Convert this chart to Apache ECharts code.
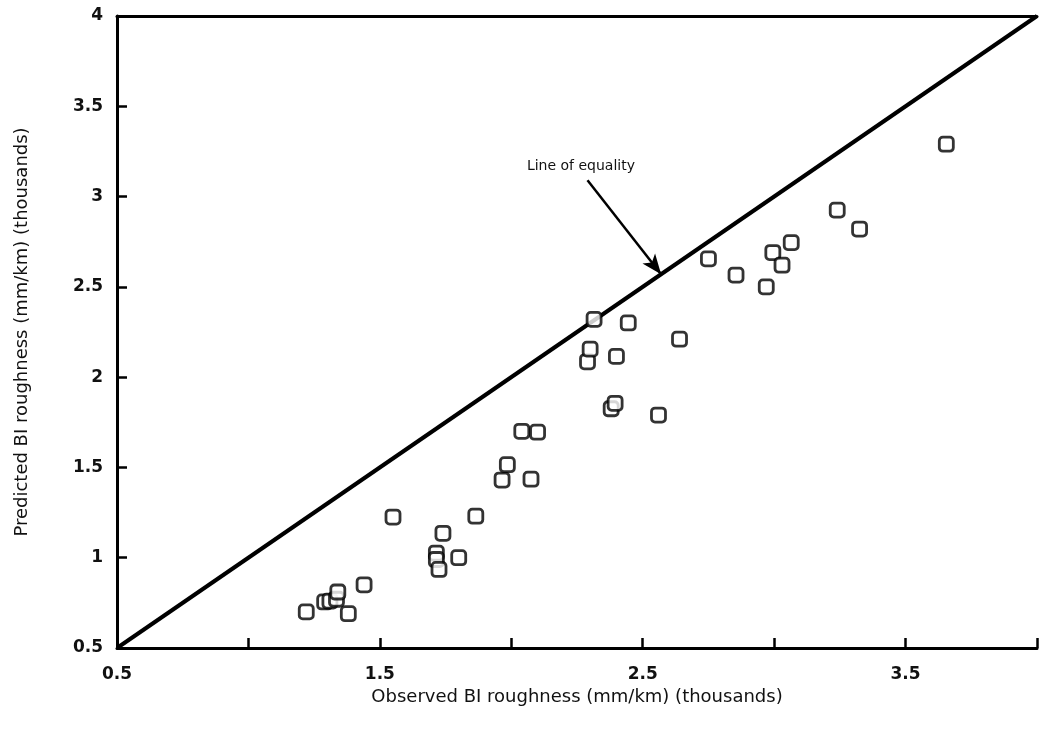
<!DOCTYPE html>
<html>
<head>
<meta charset="utf-8">
<script src="https://cdn.jsdelivr.net/npm/echarts@6/dist/echarts.min.js"></script>
<style>
  html, body { margin: 0; padding: 0; background: #fff; }
  #chart { width: 1041px; height: 733px; }
</style>
</head>
<body>
<div id="chart"></div>
<script>
// observed vs predicted BI roughness (thousands of mm/km)
const observed = [
  1.22, 1.29, 1.31, 1.335, 1.34, 1.38, 1.44, 1.55,
  1.715, 1.715, 1.725, 1.74, 1.80, 1.865,
  1.965, 1.985, 2.04, 2.075, 2.10,
  2.29, 2.30, 2.315, 2.38, 2.395, 2.40, 2.445, 2.56, 2.64,
  2.75, 2.855, 2.97, 2.995, 3.03, 3.065, 3.24, 3.325, 3.655
];
const predicted = [
  0.70, 0.755, 0.76, 0.77, 0.81, 0.69, 0.85, 1.225,
  1.025, 0.99, 0.935, 1.135, 1.00, 1.23,
  1.43, 1.515, 1.70, 1.435, 1.695,
  2.085, 2.155, 2.32, 1.825, 1.855, 2.115, 2.30, 1.79, 2.21,
  2.655, 2.565, 2.50, 2.69, 2.62, 2.745, 2.925, 2.82, 3.29
];
const equality = [[0.5, 0.5], [4, 4]];
const axisMin = 0.5, axisMax = 4, step = 0.5;
const xLabelValues = [0.5, 1.5, 2.5, 3.5];

const arrowFrom = [2.29, 3.09];
const arrowTo = [2.57, 2.57];
const noteText = 'Line of equality';
const notePos = [2.265, 3.17];

const font = '"DejaVu Sans", "Liberation Sans", sans-serif';

let myChart = echarts.init(document.getElementById('chart'));

const points = observed.map((v, i) => [v, predicted[i]]);

myChart.setOption({
  animation: false,
  backgroundColor: '#fff',
  grid: {
    left: 117,
    right: 4,
    top: 16,
    bottom: 85
  },
  xAxis: [{
    type: 'value',
    min: axisMin,
    max: axisMax,
    interval: step,
    name: 'Observed BI roughness (mm/km) (thousands)',
    nameLocation: 'middle',
    nameGap: 35,
    nameTextStyle: { color: '#111', fontFamily: font, fontSize: 18 },
    axisLine: { show: true, lineStyle: { color: '#000', width: 3 } },
    axisTick: { show: true, inside: true, length: 10, lineStyle: { color: '#000', width: 2.5 } },
    splitLine: { show: false },
    axisLabel: {
      color: '#111',
      fontFamily: font,
      fontSize: 17,
      fontWeight: 'bold',
      margin: 18,
      formatter: v => xLabelValues.indexOf(v) >= 0 ? String(v) : ''
    }
  }, {
    type: 'value',
    position: 'top',
    min: axisMin,
    max: axisMax,
    interval: step,
    axisLine: { show: true, lineStyle: { color: '#000', width: 3 } },
    axisTick: { show: false },
    axisLabel: { show: false },
    splitLine: { show: false }
  }],
  yAxis: {
    type: 'value',
    min: axisMin,
    max: axisMax,
    interval: step,
    name: 'Predicted BI roughness (mm/km) (thousands)',
    nameLocation: 'middle',
    nameGap: 86,
    nameTextStyle: { color: '#111', fontFamily: font, fontSize: 18 },
    axisLine: { show: true, lineStyle: { color: '#000', width: 3 } },
    axisTick: { show: true, inside: true, length: 10, lineStyle: { color: '#000', width: 2.5 } },
    splitLine: { show: false },
    axisLabel: {
      color: '#111',
      fontFamily: font,
      fontSize: 17,
      fontWeight: 'bold',
      margin: 14
    }
  },
  series: [{
    type: 'line',
    data: equality,
    symbol: 'none',
    lineStyle: { color: '#000', width: 4 },
    z: 2,
    markLine: {
      silent: true,
      symbol: ['none', 'arrow'],
      symbolSize: [12, 20],
      lineStyle: { color: '#000', width: 2.5, type: 'solid' },
      label: { show: false },
      data: [[{ coord: arrowFrom }, { coord: arrowTo }]]
    }
  }, {
    type: 'scatter',
    data: points,
    symbol: 'roundRect',
    symbolSize: 14,
    itemStyle: { color: '#fff', borderColor: '#000', borderWidth: 2.8 },
    z: 3
  }]
});

const p = myChart.convertToPixel({ xAxisIndex: 0, yAxisIndex: 0 }, notePos);
myChart.setOption({
  graphic: [{
    type: 'text',
    x: p[0],
    y: p[1],
    style: {
      text: noteText,
      fill: '#111',
      font: '14px ' + font,
      textAlign: 'center',
      textVerticalAlign: 'middle'
    }
  }]
});
</script>
</body>
</html>
